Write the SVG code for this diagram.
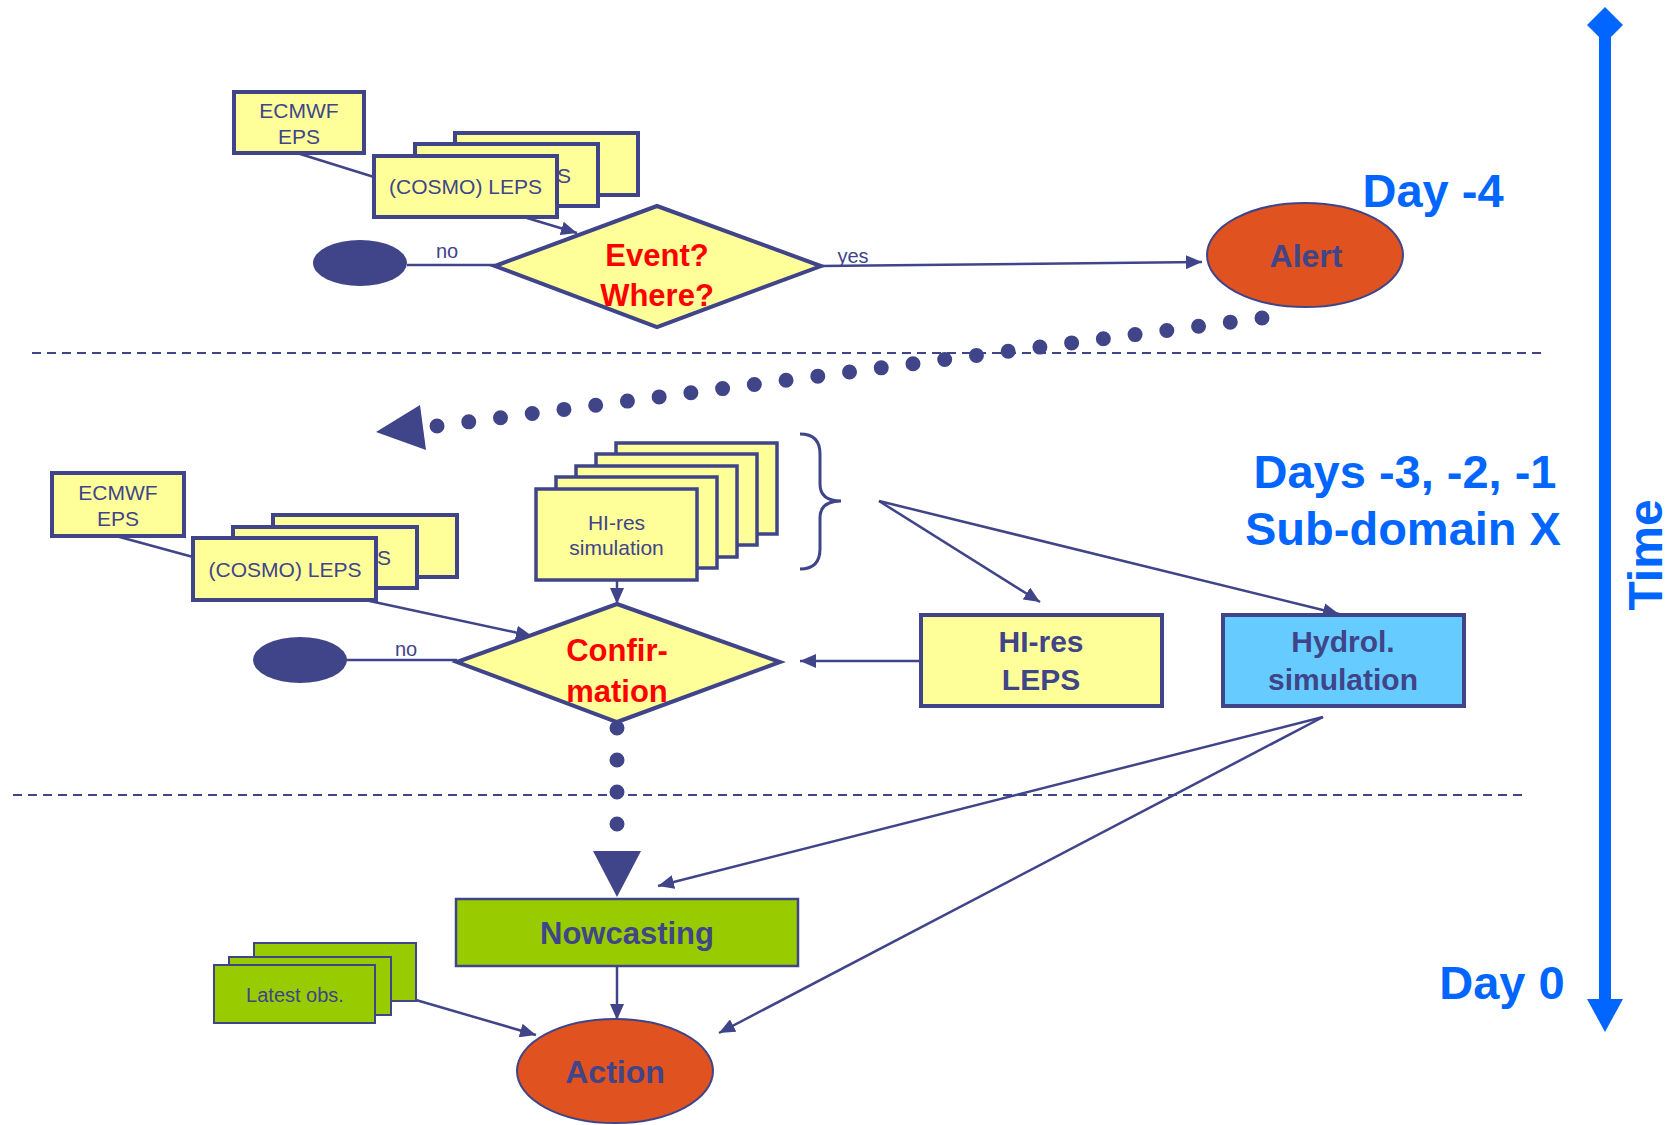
<svg xmlns="http://www.w3.org/2000/svg" width="1676" height="1125" viewBox="0 0 1676 1125">
<style>
text{font-family:"Liberation Sans",Arial,sans-serif}
.box{fill:#FFFF99;stroke:#404489;stroke-width:4}
.sim{fill:#FFFF99;stroke:#404489;stroke-width:3.5}
.grn{fill:#99CC00;stroke:#404489;stroke-width:2.5}
.obs{fill:#99CC00;stroke:#404489;stroke-width:2}
.dia{fill:#FFFF99;stroke:#404489;stroke-width:4}
.oval{fill:#E0521F;stroke:#404489;stroke-width:2}
.dark{fill:#404489}
.ln{stroke:#404489;stroke-width:2.5;fill:none}
.arr{stroke:#404489;stroke-width:2.5;fill:none;marker-end:url(#ah)}
.dash{stroke:#404489;stroke-width:2;stroke-dasharray:9 6;fill:none}
.dots{stroke:#404489;stroke-width:15;stroke-linecap:round;stroke-dasharray:0 32;fill:none}
.sm{font-size:21px;fill:#404489;text-anchor:middle}
.lbl{font-size:20px;fill:#404489;text-anchor:middle}
.q{font-size:31px;font-weight:bold;fill:#FF0000;text-anchor:middle}
.bt{font-size:30px;font-weight:bold;fill:#404489;text-anchor:middle}
.ov{font-size:32px;font-weight:bold;fill:#404489;text-anchor:middle}
.ttl{font-size:47px;font-weight:bold;fill:#0066FF;text-anchor:middle}
</style>
<defs>
<marker id="ah" viewBox="0 0 16 14" refX="16" refY="7" markerWidth="16" markerHeight="14" markerUnits="userSpaceOnUse" orient="auto">
<path d="M0,0 L16,7 L0,14 Z" fill="#404489"/>
</marker>
</defs>
<rect width="1676" height="1125" fill="#FFFFFF"/>

<g id="connectors">
<path class="dash" d="M32,353 L1545,353"/>
<path class="dash" d="M13,795 L1526,795"/>
<path class="arr" d="M297,153 L374,177 L527,218 L577,233"/>
<path class="ln" d="M407,265 L495,265"/>
<path class="arr" d="M821,266 L1202,262"/>
<path class="dots" d="M1262,318 L437,426"/>
<polygon points="376,432 420,405 426,450" fill="#404489"/>
<path class="arr" d="M116,536 L193,557 L365,600 L532,636"/>
<path class="ln" d="M346,660 L457,660"/>
<path class="arr" d="M617,580 L617,604"/>
<path class="arr" d="M879,501 L1040,602"/>
<path class="arr" d="M879,501 L1339,614"/>
<path class="arr" d="M921,661 L800,661"/>
<path class="dots" d="M617,728 L617,856"/>
<polygon points="593,851 641,851 617,897" fill="#404489"/>
<path class="arr" d="M1323,717 L658,886"/>
<path class="arr" d="M1323,717 L719,1033"/>
<path class="arr" d="M617,966 L617,1020"/>
<path class="arr" d="M416,1000 L536,1035"/>
</g>

<g id="ecmwf-top">
<rect class="box" x="234" y="92" width="130" height="61"/>
<text class="sm" x="299" y="118">ECMWF</text>
<text class="sm" x="299" y="144">EPS</text>
</g>
<g id="leps-top">
<rect class="box" x="455" y="133" width="183" height="62"/>
<rect class="box" x="415" y="144" width="183" height="62"/>
<text class="sm" x="571" y="183" style="text-anchor:end">S</text>
<rect class="box" x="374" y="156" width="183" height="61"/>
<text class="sm" x="465.5" y="194">(COSMO) LEPS</text>
</g>
<g id="stop-top">
<ellipse class="dark" cx="360" cy="263" rx="47" ry="23"/>
<text class="lbl" x="447" y="258">no</text>
</g>
<g id="event">
<polygon class="dia" points="495,266 657,206 821,266 657,327"/>
<text class="q" x="657" y="266">Event?</text>
<text class="q" x="657" y="306">Where?</text>
<text class="lbl" x="853" y="263">yes</text>
</g>
<g id="alert">
<ellipse class="oval" cx="1305" cy="255" rx="98" ry="52"/>
<text class="ov" x="1306" y="267">Alert</text>
</g>

<g id="ecmwf-mid">
<rect class="box" x="52" y="473" width="132" height="63"/>
<text class="sm" x="118" y="500">ECMWF</text>
<text class="sm" x="118" y="526">EPS</text>
</g>
<g id="leps-mid">
<rect class="box" x="273" y="515" width="184" height="62"/>
<rect class="box" x="233" y="527" width="184" height="61"/>
<text class="sm" x="391" y="565" style="text-anchor:end">S</text>
<rect class="box" x="193" y="538" width="183" height="62"/>
<text class="sm" x="285" y="577">(COSMO) LEPS</text>
</g>
<g id="stop-mid">
<ellipse class="dark" cx="300" cy="660" rx="47" ry="23"/>
<text class="lbl" x="406" y="656">no</text>
</g>
<g id="hires-sim">
<rect class="sim" x="616" y="443" width="161" height="91"/>
<rect class="sim" x="596" y="454" width="161" height="91"/>
<rect class="sim" x="576" y="466" width="161" height="91"/>
<rect class="sim" x="556" y="477" width="161" height="91"/>
<rect class="sim" x="536" y="489" width="161" height="91"/>
<text class="sm" x="616.5" y="530">HI-res</text>
<text class="sm" x="616.5" y="555">simulation</text>
</g>
<g id="brace">
<path class="ln" style="stroke-width:3" d="M800,434 Q820,434 820,454 L820,484 Q820,501 841,501 Q820,501 820,518 L820,549 Q820,569 800,569"/>
</g>
<g id="confirmation">
<polygon class="dia" points="457,662 617,604 780,662 617,722"/>
<text class="q" x="617" y="661">Confir-</text>
<text class="q" x="617" y="702">mation</text>
</g>
<g id="hires-leps">
<rect class="box" x="921" y="615" width="241" height="91"/>
<text class="bt" x="1041" y="652">HI-res</text>
<text class="bt" x="1041" y="690">LEPS</text>
</g>
<g id="hydrol">
<rect class="box" style="fill:#66CCFF" x="1223" y="615" width="241" height="91"/>
<text class="bt" x="1343" y="652">Hydrol.</text>
<text class="bt" x="1343" y="690">simulation</text>
</g>

<g id="nowcasting">
<rect class="grn" x="456" y="899" width="342" height="67"/>
<text class="bt" style="font-size:31px" x="627" y="944">Nowcasting</text>
</g>
<g id="latest-obs">
<rect class="obs" x="254" y="943" width="162" height="58"/>
<rect class="obs" x="229" y="957" width="162" height="58"/>
<rect class="obs" x="214" y="965" width="161" height="58"/>
<text class="lbl" x="295" y="1002">Latest obs.</text>
</g>
<g id="action">
<ellipse class="oval" cx="615" cy="1071" rx="98" ry="52"/>
<text class="ov" x="615" y="1083">Action</text>
</g>

<g id="timeline">
<rect x="1599" y="30" width="12" height="972" fill="#0066FF"/>
<polygon points="1605,7 1623,25 1611,37 1599,37 1587,25" fill="#0066FF"/>
<polygon points="1587,999 1623,999 1605,1032" fill="#0066FF"/>
<text class="ttl" style="font-size:48px" transform="translate(1662,555) rotate(-90)">Time</text>
</g>
<g id="labels">
<text class="ttl" x="1433" y="207">Day -4</text>
<text class="ttl" x="1405" y="488">Days -3, -2, -1</text>
<text class="ttl" x="1403" y="545">Sub-domain X</text>
<text class="ttl" x="1502" y="999">Day 0</text>
</g>
</svg>
